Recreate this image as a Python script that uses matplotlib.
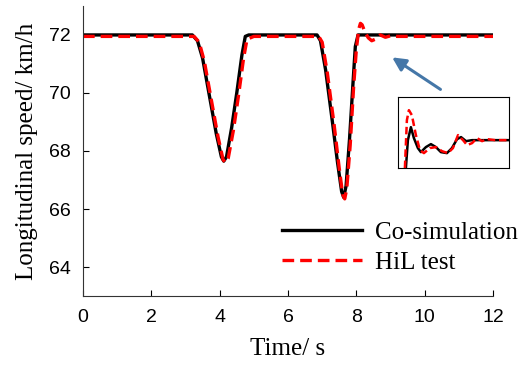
import matplotlib
matplotlib.use('Agg')
from matplotlib import pyplot as plt

# Data
t_cosim = [0, 3.2, 3.35, 3.5, 3.7, 3.9, 4.05, 4.12, 4.2, 4.35, 4.5, 4.65, 4.75, 4.85,
           6.85, 6.95, 7.1, 7.3, 7.45, 7.57, 7.63, 7.7, 7.8, 7.9, 7.97, 8.05, 12.0]
v_cosim = [72, 72, 71.8, 71.2, 69.9, 68.6, 67.8, 67.65, 67.8, 68.8, 70.0, 71.3, 71.95, 72,
           72, 71.8, 70.8, 69.0, 67.6, 66.6, 66.4, 66.8, 68.4, 70.3, 71.6, 72, 72]

t_hil = [0, 3.25, 3.4, 3.55, 3.75, 3.95, 4.1, 4.17, 4.25, 4.4, 4.55, 4.7, 4.8, 5.0,
         6.9, 7.0, 7.15, 7.35, 7.5, 7.6, 7.66, 7.72, 7.82, 7.92, 8.0, 8.07, 8.12, 8.17,
         8.25, 8.35, 8.45, 8.55, 8.7, 8.85, 9.0, 9.2, 12.0]
v_hil = [71.95, 71.95, 71.75, 71.1, 69.8, 68.5, 67.7, 67.6, 67.75, 68.7, 69.9, 71.2, 71.85, 71.95,
         71.95, 71.75, 70.7, 68.9, 67.4, 66.5, 66.35, 66.7, 68.2, 70.2, 71.5, 72.2, 72.4, 72.35,
         72.1, 71.9, 71.8, 71.85, 72.0, 71.92, 71.97, 71.95, 71.95]

# zoomed view of the overshoot (inset, normalised units)
u_cosim_in = [0.072, 0.090, 0.117, 0.144, 0.180, 0.207, 0.252, 0.297, 0.342, 0.387, 0.441,
              0.486, 0.532, 0.568, 0.613, 0.667, 0.739, 0.829, 1.0]
w_cosim_in = [0, 0.394, 0.577, 0.423, 0.282, 0.225, 0.296, 0.338, 0.296, 0.225, 0.211,
              0.282, 0.408, 0.437, 0.380, 0.394, 0.394, 0.394, 0.394]
u_hil_in = [0.063, 0.081, 0.099, 0.126, 0.162, 0.198, 0.234, 0.288, 0.342, 0.396, 0.450,
            0.495, 0.541, 0.586, 0.622, 0.667, 0.712, 0.757, 0.802, 0.874, 1.0]
w_hil_in = [0, 0.676, 0.817, 0.746, 0.465, 0.254, 0.211, 0.282, 0.296, 0.239, 0.211,
            0.282, 0.465, 0.394, 0.324, 0.352, 0.423, 0.380, 0.408, 0.394, 0.394]

x_ticks = [0, 2, 4, 6, 8, 10, 12]
y_ticks = [64, 66, 68, 70, 72]
arrow_head = (8.98, 71.28)
arrow_tail = (10.53, 70.07)

serif = 'Liberation Serif'
sans = 'Liberation Sans'

fig = plt.figure(figsize=(5.27, 3.71), dpi=100)
ax = fig.add_axes([0.1575, 0.202, 0.778, 0.782])

ax.plot(t_cosim, v_cosim, color='black', lw=2.4, label='Co-simulation')
ax.plot(t_hil, v_hil, color='red', lw=2.4, ls=(0, (3.5, 1.8)), label='HiL test')

ax.set_xlim(0, 12)
ax.set_ylim(63, 73)
ax.set_xticks(x_ticks)
ax.set_yticks(y_ticks)
ax.tick_params(direction='in', length=4, width=0.8, labelsize=14, pad=9)
for lab in ax.get_xticklabels() + ax.get_yticklabels():
    lab.set_family(sans)
ax.spines['top'].set_visible(False)
ax.spines['right'].set_visible(False)
ax.spines['left'].set_color('#333333')
ax.spines['bottom'].set_color('#333333')

ax.set_xlabel('Time/ s', family=serif, fontsize=18, labelpad=9)
ax.set_ylabel('Longitudinal speed/ km/h', family=serif, fontsize=18, labelpad=8)

ax.legend(loc='lower right', bbox_to_anchor=(1.115, 0.0), frameon=False,
          prop={'family': serif, 'size': 18}, handlelength=3.2,
          handletextpad=0.5, labelspacing=0.3)

ax.annotate('', xy=arrow_head, xytext=arrow_tail,
            arrowprops=dict(arrowstyle='-|>', color='#4577a8', lw=2.2,
                            mutation_scale=20))

# inset
axin = fig.add_axes([0.755, 0.547, 0.211, 0.191])
axin.plot(u_cosim_in, w_cosim_in, color='black', lw=1.8)
axin.plot(u_hil_in, w_hil_in, color='red', lw=1.8, ls=(0, (3, 1.5)))
axin.set_xlim(0, 1)
axin.set_ylim(0, 1)
axin.set_xticks([])
axin.set_yticks([])
for s in axin.spines.values():
    s.set_linewidth(0.8)

fig.savefig('out.png', dpi=100)
